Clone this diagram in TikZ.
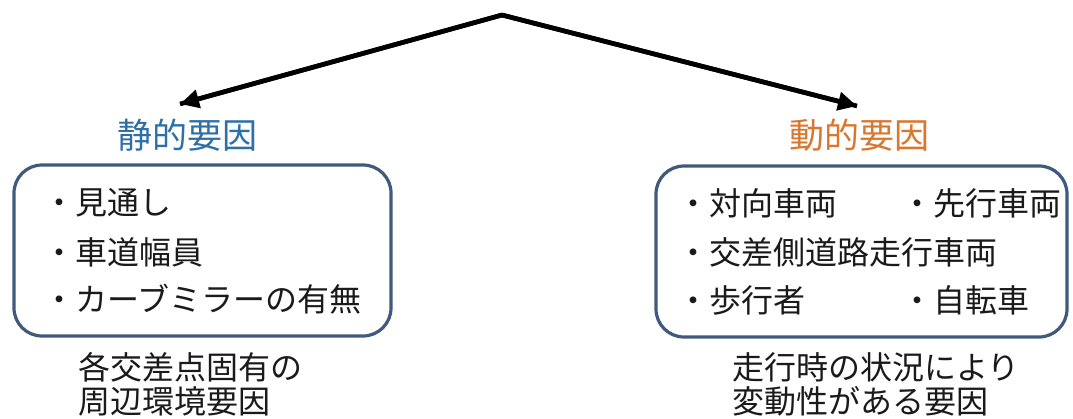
\documentclass[tikz,border=0pt]{standalone}
\usepackage{fontspec}
\setmainfont{Noto Sans CJK JP}
\usetikzlibrary{arrows.meta}
\definecolor{staticblue}{HTML}{2E6FA8}
\definecolor{dynorange}{HTML}{D9772E}
\definecolor{boxline}{HTML}{3F5A7C}
\definecolor{txt}{HTML}{1A1A1A}
\tikzset{
  x=1pt, y=-1pt,
  conn/.style={line width=4.6pt, -{Triangle[length=19pt,width=18pt]}},
  catlabel/.style={font=\fontsize{35}{40}\selectfont, inner sep=0pt, anchor=center},
  frame/.style={draw=boxline, line width=3.2pt, rounded corners=28pt},
  item/.style={font=\fontsize{32}{36}\selectfont, text=txt, inner sep=0pt, anchor=west},
  note/.style={font=\fontsize{32}{34}\selectfont, text=txt, inner sep=0pt, anchor=north west, align=left}
}
\begin{document}
\begin{tikzpicture}
\useasboundingbox (0,0) rectangle (1073,418);
\coordinate (apex) at (502,15);
\coordinate (ltip) at (180,104);
\coordinate (rtip) at (857,106);
\draw[line width=4.6pt, line join=miter] (ltip) -- (apex) -- (rtip);
\draw[conn] (apex) -- (ltip);
\draw[conn] (apex) -- (rtip);
\node[catlabel, text=staticblue] (stat) at (187,135) {静的要因};
\node[catlabel, text=dynorange] (dyn) at (859,135) {動的要因};
\draw[frame] (14,165) rectangle (391,336);
\draw[frame] (656,166) rectangle (1067,337);
\node[item] (l1) at (43,203) {・見通し};
\node[item] (l2) at (43,252) {・車道幅員};
\node[item] (l3) at (43,299) {・カーブミラーの有無};
\node[item] (r1) at (677,203) {・対向車両};
\node[item] (r2) at (901,203) {・先行車両};
\node[item] (r3) at (677,252) {・交差側道路走行車両};
\node[item] (r4) at (677,300) {・歩行者};
\node[item] (r5) at (901,300) {・自転車};
\node[note] (ln) at (78,352) {各交差点固有の\\周辺環境要因};
\node[note] (rn) at (732,352) {走行時の状況により\\変動性がある要因};
\end{tikzpicture}
\end{document}
